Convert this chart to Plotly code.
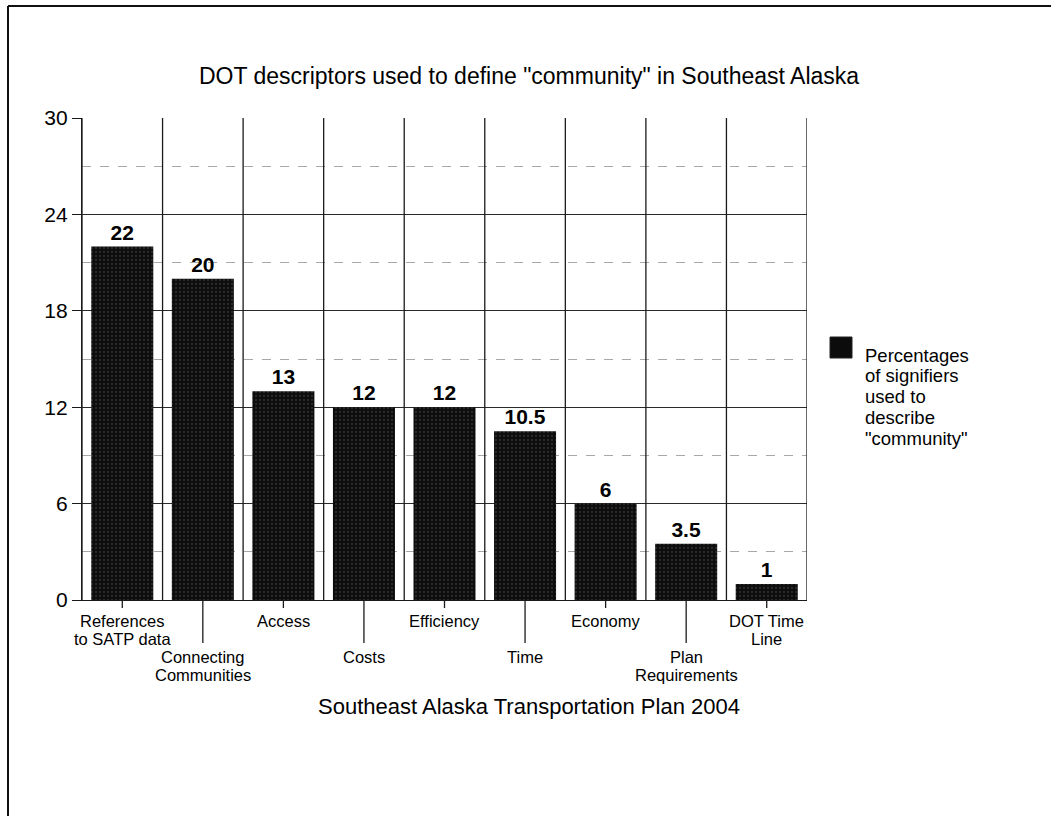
import plotly.graph_objects as go

# --- data ---------------------------------------------------------------
categories = [
    "References to SATP data", "Connecting Communities", "Access", "Costs",
    "Efficiency", "Time", "Economy", "Plan Requirements", "DOT Time Line",
]
tick_label_lines = [
    ["References", "to SATP data"], ["Connecting", "Communities"], ["Access"], ["Costs"],
    ["Efficiency"], ["Time"], ["Economy"], ["Plan", "Requirements"], ["DOT Time", "Line"],
]
values = [22, 20, 13, 12, 12, 10.5, 6, 3.5, 1]
value_labels = ["22", "20", "13", "12", "12", "10.5", "6", "3.5", "1"]
y_major_ticks = [0, 6, 12, 18, 24, 30]
y_minor_ticks = [3, 9, 15, 21, 27]
legend_lines = ["Percentages", "of signifiers", "used to", "describe", "\"community\""]

title_text = "DOT descriptors used to define \"community\" in Southeast Alaska"
x_title_text = "Southeast Alaska Transportation Plan 2004"

# --- page geometry (pixels) ---------------------------------------------
FIG_W, FIG_H = 1051, 816
L, R, T, B = 82, 807, 118, 600
PLOT_W, PLOT_H = R - L, B - T
FONT = "Arial, Liberation Sans, sans-serif"
BAR_FILL = "#0c0c0c"
LINE_COL = "#1a1a1a"


def px_x(px):
    return (px - L) / PLOT_W


def px_y(py):
    return (B - py) / PLOT_H


fig = go.Figure()
fig.add_trace(go.Bar(
    x=categories,
    y=values,
    text=value_labels,
    textposition="outside",
    textfont=dict(family=FONT, size=21, color="black", weight="bold"),
    cliponaxis=False,
    marker=dict(
        color=BAR_FILL,
        line=dict(width=0),
        pattern=dict(shape=".", fgcolor="#4a4a4a", bgcolor=BAR_FILL,
                     size=4, solidity=0.25),
    ),
    showlegend=False,
))

shapes = []
# vertical separators between the categories
for i in range(len(categories) + 1):
    shapes.append(dict(type="line", xref="x", yref="y",
                       x0=i - 0.5, x1=i - 0.5, y0=0, y1=30,
                       line=dict(color=LINE_COL, width=1.3), layer="above"))

annotations = []
# category ticks and labels: alternate short/long ticks
LINE_STEP = 18
for i, lines in enumerate(tick_label_lines):
    low = i % 2 == 1
    tick_end = 643 if low else 608
    first_line = 657 if low else 621
    shapes.append(dict(type="line", xref="x", yref="paper",
                       x0=i, x1=i, y0=px_y(B), y1=px_y(tick_end),
                       line=dict(color=LINE_COL, width=1.3)))
    for k, text in enumerate(lines):
        annotations.append(dict(
            x=categories[i], xref="x", y=px_y(first_line + LINE_STEP * k), yref="paper",
            text=text, showarrow=False, xanchor="center", yanchor="middle",
            font=dict(family=FONT, size=16.5, color="black"),
        ))

# axis title below the categories
annotations.append(dict(
    x=px_x(529), xref="paper", y=px_y(706), yref="paper",
    text=x_title_text, showarrow=False, xanchor="center", yanchor="middle",
    font=dict(family=FONT, size=22, color="black"),
))

# legend swatch and wrapped label
shapes.append(dict(type="rect", xref="paper", yref="paper",
                   x0=px_x(830), x1=px_x(852), y0=px_y(358), y1=px_y(337),
                   fillcolor=BAR_FILL, line=dict(color="#222", width=1)))
for k, line in enumerate(legend_lines):
    annotations.append(dict(
        x=px_x(863), xref="paper", y=px_y(355 + 20.8 * k), yref="paper",
        text=line, showarrow=False, xanchor="left", yanchor="middle",
        font=dict(family=FONT, size=18.5, color="black"),
    ))

# outer frame (left and top edges)
shapes.append(dict(type="line", xref="paper", yref="paper",
                   x0=px_x(8), x1=px_x(8), y0=px_y(6), y1=px_y(FIG_H + 5),
                   line=dict(color="#111", width=2)))
shapes.append(dict(type="line", xref="paper", yref="paper",
                   x0=px_x(8), x1=px_x(FIG_W + 5), y0=px_y(6), y1=px_y(6),
                   line=dict(color="#111", width=2)))

fig.update_layout(
    width=FIG_W, height=FIG_H,
    margin=dict(l=L, r=FIG_W - R, t=T, b=FIG_H - B, pad=0),
    paper_bgcolor="white", plot_bgcolor="white",
    bargap=0.23,
    title=dict(text=title_text, x=529 / FIG_W, xanchor="center", xref="container",
               y=1 - 76 / FIG_H, yanchor="middle", yref="container",
               font=dict(family=FONT, size=23, color="black")),
    xaxis=dict(range=[-0.5, len(categories) - 0.5], showticklabels=False,
               ticks="", showgrid=False, zeroline=False,
               showline=True, linecolor=LINE_COL, linewidth=1.3),
    yaxis=dict(range=[0, 30], tickvals=y_major_ticks, ticks="outside",
               ticklen=9, tickcolor=LINE_COL, tickwidth=1.3,
               tickfont=dict(family=FONT, size=21, color="black"),
               showline=True, linecolor=LINE_COL, linewidth=1.3,
               showgrid=True, gridcolor="#2a2a2a", gridwidth=1.3,
               zeroline=False,
               minor=dict(tickvals=y_minor_ticks, showgrid=True,
                          gridcolor="#a8a8a8", griddash="dash", gridwidth=1,
                          ticks="")),
    shapes=shapes,
    annotations=annotations,
    font=dict(family=FONT, color="black"),
)

fig.write_html("out.html")
